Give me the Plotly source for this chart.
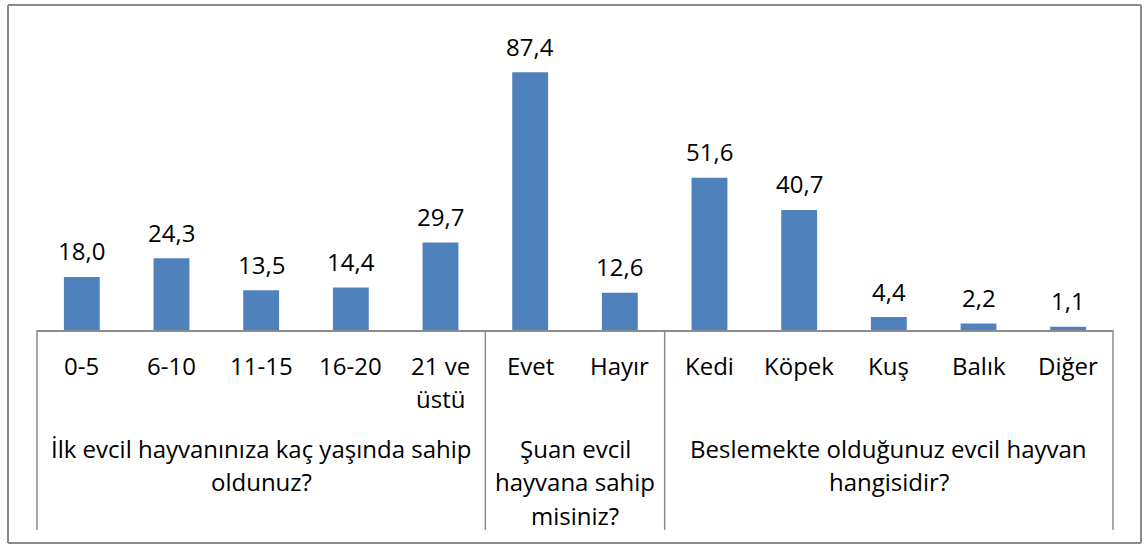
import plotly.graph_objects as go

# ---- data ----
categories = ["0-5", "6-10", "11-15", "16-20", "21 ve üstü",
              "Evet", "Hayır",
              "Kedi", "Köpek", "Kuş", "Balık", "Diğer"]
category_lines = [["0-5"], ["6-10"], ["11-15"], ["16-20"], ["21 ve", "üstü"],
                  ["Evet"], ["Hayır"],
                  ["Kedi"], ["Köpek"], ["Kuş"], ["Balık"], ["Diğer"]]
values = [18.0, 24.3, 13.5, 14.4, 29.7, 87.4, 12.6, 51.6, 40.7, 4.4, 2.2, 1.1]
groups = [
    ["İlk evcil hayvanınıza kaç yaşında sahip", "oldunuz?"],
    ["Şuan evcil", "hayvana sahip", "misiniz?"],
    ["Beslemekte olduğunuz evcil hayvan", "hangisidir?"],
]
group_sizes = [5, 2, 5]

# ---- layout constants ----
W, H = 1144, 545
ML, MR, MT, MB = 37, 31, 35, 215
PW = W - ML - MR
PH = H - MT - MB
AXIS_Y = MT + PH
BAR_COLOR = "#4F81BD"
LINE_COLOR = "#8C8C8C"
FONT = "Open Sans"
FS = 24

def py(pix):
    return (AXIS_Y - pix) / PH

def px(pix):
    return (pix - ML) / PW

x = list(range(len(categories)))
labels = [f"{v:.1f}".replace(".", ",") for v in values]

fig = go.Figure()
fig.add_trace(go.Bar(x=x, y=values, marker=dict(color=BAR_COLOR, line=dict(width=0)),
                     width=0.4, hoverinfo="skip"))

annotations = []
# data labels
for xi, v, t in zip(x, values, labels):
    annotations.append(dict(x=xi, y=v, xref="x", yref="y", text=t, showarrow=False,
                            yanchor="middle", yshift=26,
                            font=dict(family=FONT, size=FS, color="black")))
# category labels
for xi, lines in zip(x, category_lines):
    for j, ln in enumerate(lines):
        annotations.append(dict(x=xi, y=py(365 + 33 * j), xref="x", yref="paper", text=ln,
                                showarrow=False, yanchor="middle",
                                font=dict(family=FONT, size=FS, color="black")))
# group labels
start = 0
shapes = []
n = len(categories)
bounds = [0]
for g, size in zip(groups, group_sizes):
    center = start + (size - 1) / 2
    for j, ln in enumerate(g):
        annotations.append(dict(x=center, y=py(448 + 33.5 * j), xref="x", yref="paper", text=ln,
                                showarrow=False, yanchor="middle",
                                font=dict(family=FONT, size=FS, color="black")))
    start += size
    bounds.append(start)

for b in bounds:
    shapes.append(dict(type="line", xref="paper", yref="paper", x0=b / n, x1=b / n,
                       y0=0, y1=py(530), line=dict(color=LINE_COLOR, width=1.5)))

# outer chart border (four lines)
bx0, bx1, by0, by1 = px(8), px(1141), py(543), py(5)
for (a0, b0, a1, b1) in [(bx0, by0, bx1, by0), (bx0, by1, bx1, by1),
                         (bx0, by0, bx0, by1), (bx1, by0, bx1, by1)]:
    shapes.append(dict(type="line", xref="paper", yref="paper", x0=a0, y0=b0, x1=a1, y1=b1,
                       line=dict(color="#8A8A8A", width=2)))

fig.update_layout(
    width=W, height=H,
    margin=dict(l=ML, r=MR, t=MT, b=MB),
    paper_bgcolor="white", plot_bgcolor="white",
    showlegend=False,
    annotations=annotations, shapes=shapes,
    xaxis=dict(range=[-0.5, n - 0.5], showticklabels=False, ticks="", showgrid=False,
               zeroline=False, showline=True, linecolor=LINE_COLOR, linewidth=1.5,
               fixedrange=True),
    yaxis=dict(range=[0, 100], visible=False, fixedrange=True),
)

fig.write_html("out.html", config={"displayModeBar": False},
               post_script="document.body.style.margin='0';document.body.style.overflow='hidden';")
